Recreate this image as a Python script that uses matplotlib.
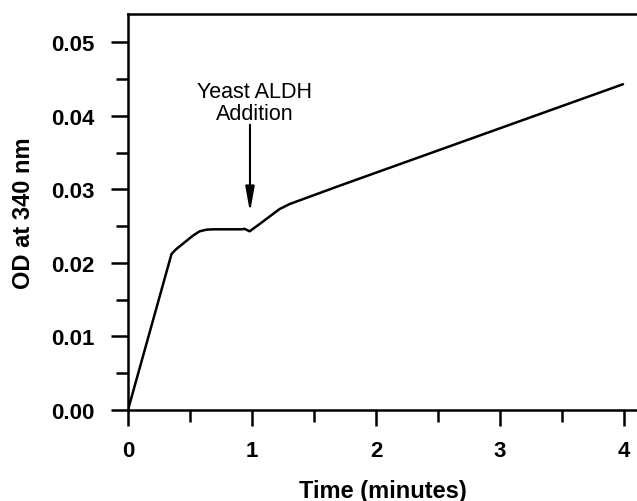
import matplotlib
matplotlib.use("Agg")
import matplotlib.pyplot as plt
from matplotlib.ticker import MultipleLocator, FormatStrFormatter

# Absorbance trace at 340 nm before and after enzyme addition
time_min = [0.0, 0.351, 0.390, 0.457, 0.524, 0.578, 0.632, 0.685, 0.915, 0.941,
            0.981, 1.062, 1.223, 1.304, 1.707, 2.758, 3.992]
od_340 = [0.0, 0.02121, 0.02189, 0.02280, 0.02371, 0.02430, 0.02452, 0.02457,
          0.02457, 0.02463, 0.02430, 0.02529, 0.02733, 0.02801, 0.0305, 0.03685, 0.0443]

x_ticks = [0, 1, 2, 3, 4]
y_ticks = [0.00, 0.01, 0.02, 0.03, 0.04, 0.05]

annot_text = "Yeast ALDH\nAddition"
arrow_x = 0.984
arrow_tip_y = 0.0269
arrow_tail_y = 0.0388

plt.rcParams["font.family"] = ["Liberation Sans", "DejaVu Sans"]

fig = plt.figure(figsize=(6.37, 5.02), dpi=100)
ax = fig.add_axes([0.2009, 0.1813, 0.7991, 0.7888])

ax.plot(time_min, od_340, color="black", lw=1.8,
        solid_joinstyle="round", solid_capstyle="round")

ax.set_xlim(0, 4.105)
ax.set_ylim(0, 0.05385)

ax.set_xticks(x_ticks)
ax.set_yticks(y_ticks)
ax.xaxis.set_minor_locator(MultipleLocator(0.5))
ax.yaxis.set_minor_locator(MultipleLocator(0.005))
ax.yaxis.set_major_formatter(FormatStrFormatter("%.2f"))

ax.tick_params(which="major", direction="out", width=1.8, length=12, pad=12,
               labelsize=16, color="black")
ax.tick_params(which="minor", direction="out", width=1.8, length=8.5, color="black")
ax.tick_params(axis="x", which="major", length=11.5, pad=10)
ax.tick_params(axis="x", which="minor", length=8.5)
for lab in ax.get_xticklabels() + ax.get_yticklabels():
    lab.set_fontweight("bold")

for side in ("left", "bottom", "top"):
    ax.spines[side].set_linewidth(1.8)
ax.spines["right"].set_visible(False)

ax.set_xlabel("Time (minutes)", fontsize=17, fontweight="bold", labelpad=13)
ax.set_ylabel("OD at 340 nm", fontsize=17, fontweight="bold", labelpad=12)

ax.annotate("", xy=(arrow_x, arrow_tip_y), xytext=(arrow_x, arrow_tail_y),
            arrowprops=dict(arrowstyle="-|>,head_length=1.0,head_width=0.18",
                            mutation_scale=15, color="black", lw=1.5,
                            shrinkA=0, shrinkB=0))
ax.text(1.024, 0.03957, annot_text, ha="center", va="baseline",
        multialignment="center", fontsize=15.5, linespacing=1.05)

fig.savefig("out.png", dpi=100)
